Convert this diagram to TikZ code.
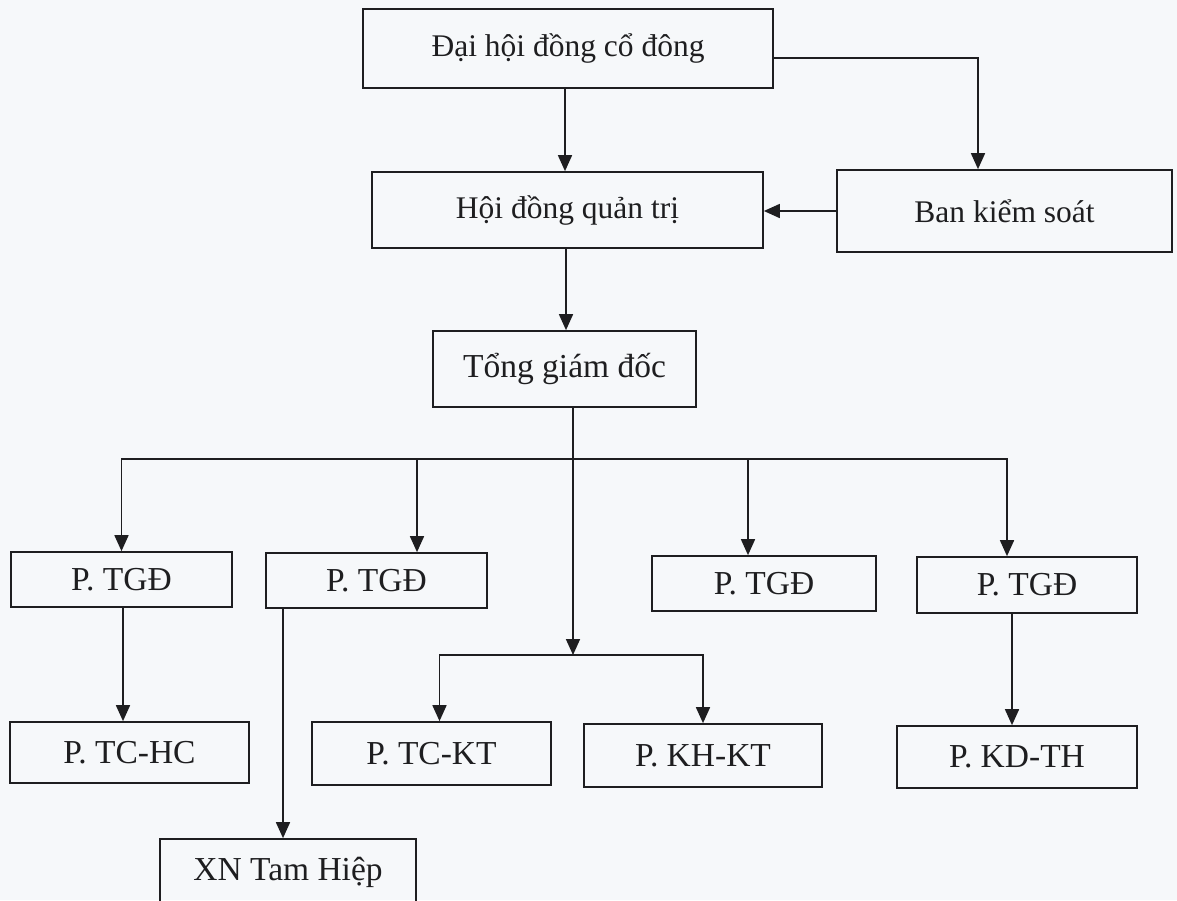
\documentclass[tikz,border=0pt]{standalone}
\usepackage{fontspec}
\setmainfont{Liberation Serif}
\usetikzlibrary{arrows.meta}
\definecolor{paper}{RGB}{246,248,250}
\definecolor{ink}{RGB}{30,30,32}
\tikzset{
  box/.style={draw=ink, line width=1.7pt, text=ink, inner sep=0pt, align=center},
  topbox/.style={box, font=\fontsize{31.5}{36}\selectfont},
  lowbox/.style={box, font=\fontsize{33.5}{38}\selectfont},
  link/.style={draw=ink, line width=1.7pt},
  arr/.style={link, -{Triangle[length=16pt,width=14pt]}}
}
\begin{document}
\begin{tikzpicture}[x=1pt,y=-1pt]
\useasboundingbox (0,0) rectangle (1177,900);
\fill[paper] (0,0) rectangle (1177,900);
\clip (0,0) rectangle (1177,900);

\node[topbox, minimum width=410pt, minimum height=79pt] (dh) at (568,48.5) {Đại hội đồng cổ đông};
\node[topbox, minimum width=391pt, minimum height=76pt] (hd) at (567.5,210) {Hội đồng quản trị};
\node[topbox, minimum width=335pt, minimum height=82pt] (bks) at (1004.5,211) {Ban kiểm soát};
\node[lowbox, minimum width=263pt, minimum height=76pt] (tgd) at (564.5,369) {Tổng giám đốc};

\node[lowbox, minimum width=221pt, minimum height=55pt] (p1) at (121.5,579.5) {P. TGĐ};
\node[lowbox, minimum width=221pt, minimum height=55pt] (p2) at (376.5,580.5) {P. TGĐ};
\node[lowbox, minimum width=224pt, minimum height=55pt] (p3) at (764,583.5) {P. TGĐ};
\node[lowbox, minimum width=220pt, minimum height=56pt] (p4) at (1027,585) {P. TGĐ};

\node[lowbox, minimum width=239pt, minimum height=61pt] (tchc) at (129.5,752.5) {P. TC-HC};
\node[lowbox, minimum width=239pt, minimum height=63pt] (tckt) at (431.5,753.5) {P. TC-KT};
\node[lowbox, minimum width=238pt, minimum height=63pt] (khkt) at (703,755.5) {P. KH-KT};
\node[lowbox, minimum width=240pt, minimum height=62pt] (kdth) at (1017,757) {P. KD-TH};
\node[lowbox, minimum width=256pt, minimum height=70pt, text depth=0pt] (xn) at (288,874) {\raisebox{10pt}{XN Tam Hiệp}};

% top level
\draw[arr] ([xshift=-3pt]dh.south) -- ([xshift=-3pt]dh.south |- hd.north);
\draw[arr] ([yshift=-9.5pt]dh.east) -| ([xshift=-26.5pt]bks.north);
\draw[arr] (bks.west) -- (bks.west -| hd.east);
\draw[arr] ([xshift=1.5pt]tgd.north |- hd.south) -- ([xshift=1.5pt]tgd.north);

% buses
\coordinate (bus) at (573,459);
\coordinate (bus2) at (573,655);
\draw[link] (bus |- tgd.south) -- (bus);
\draw[arr] (bus) -- (bus2);
\draw[arr] (bus) -| (p1.north);
\draw[arr] (bus) -| ([xshift=40.5pt]p2.north);
\draw[arr] (bus) -| ([xshift=-16pt]p3.north);
\draw[arr] (bus) -| ([xshift=-20pt]p4.north);
\draw[arr] (bus2) -| ([xshift=8pt]tckt.north);
\draw[arr] (bus2) -| (khkt.north);

% sub links
\draw[arr] ([xshift=1.5pt]p1.south) -- ([xshift=1.5pt]p1.south |- tchc.north);
\draw[arr] ([xshift=-93.5pt]p2.south) -- ([xshift=-93.5pt]p2.south |- xn.north);
\draw[arr] ([xshift=-15pt]p4.south) -- ([xshift=-15pt]p4.south |- kdth.north);
\end{tikzpicture}
\end{document}
